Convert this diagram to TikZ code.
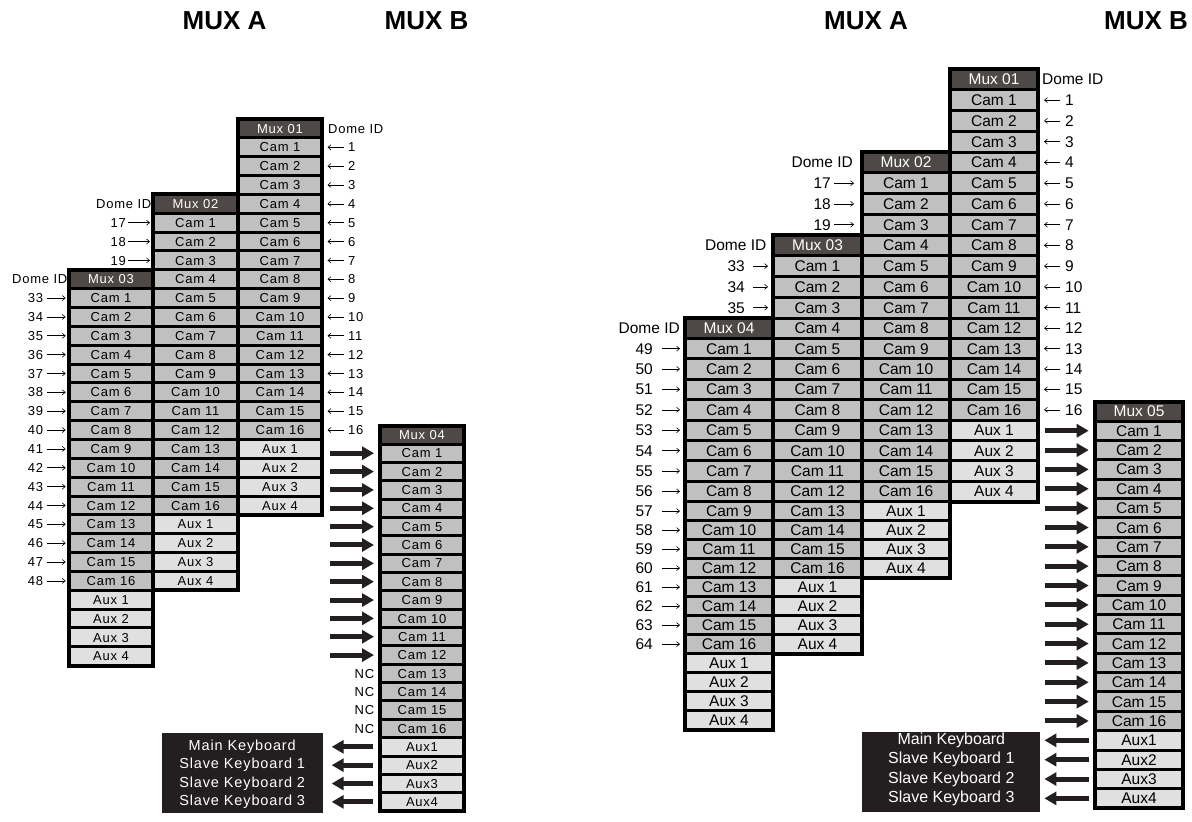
\documentclass[tikz,border=0pt]{standalone}
\usepackage{fontspec}
\setmainfont{Liberation Sans}
\newfontfamily\lfont[LetterSpace=6]{Liberation Sans}
\newfontfamily\rfont{Liberation Sans}
\usetikzlibrary{arrows.meta}
\definecolor{headcol}{RGB}{78,72,70}
\definecolor{camcol}{RGB}{192,192,192}
\definecolor{auxcol}{RGB}{224,224,224}
\definecolor{kbcol}{RGB}{35,31,32}

% #1 name, #2 x0, #3 x1, #4 start row, #5 row function, #6 header, #7 aux sep, #8 style
\newcommand\mkcol[8]{%
 \foreach \k in {0,...,20}{%
  \pgfmathsetmacro\ya{#5(#4+\k)}%
  \pgfmathsetmacro\yb{#5(#4+\k+1)}%
  \pgfmathsetmacro\yc{(\ya+\yb)/2}%
  \pgfmathsetmacro\hh{\yb-\ya}%
  \pgfmathtruncatemacro\ax{\k-16}%
  \ifnum\k=0
   \node[cell,headc,#8,minimum width={#3-#2},minimum height=\hh] (#1-\k) at ({(#2+#3)/2},\yc) {#6};
  \else\ifnum\k<17
   \node[cell,camc,#8,minimum width={#3-#2},minimum height=\hh] (#1-\k) at ({(#2+#3)/2},\yc) {Cam \k};
  \else
   \node[cell,auxc,#8,minimum width={#3-#2},minimum height=\hh] (#1-\k) at ({(#2+#3)/2},\yc) {Aux#7\ax};
  \fi\fi
 }%
 \draw[line width=4pt] (#2,{#5(#4)}) rectangle (#3,{#5(#4+21)});
}

\begin{document}
\begin{tikzpicture}[x=1pt,y=-1pt,
 declare function={yL(\r)=119+18.85*\r; yLf(\r)=425.7+18.35*\r;
   yR(\r)=69+20.75*min(\r,12)+20.4*max(0,min(\r,21)-12)+19*max(0,\r-21);
   yRf(\r)=401.7+19.35*\r;},
 cell/.style={draw=black,line width=3pt,inner sep=0pt},
 headc/.style={fill=headcol,text=white},
 camc/.style={fill=camcol,text=black},
 auxc/.style={fill=auxcol,text=black},
 lsz/.style={font=\lfont\fontsize{13}{13}\selectfont,text height=9.3pt,text depth=0pt},
 rsz/.style={font=\rfont\fontsize{15.5}{15.5}\selectfont,text height=11.1pt,text depth=0pt},
 lnum/.style={lsz,inner sep=1pt},
 rnum/.style={rsz,inner sep=1pt},
 thinarr/.style={line width=0.6pt,-{Straight Barb[length=3pt,width=5pt]}},
 bigarr/.style={draw=kbcol,line width=5pt,-{Triangle[length=12pt,width=13pt]}},
 kbbox/.style={fill=kbcol,inner sep=0pt,outer sep=0pt},
 title/.style={font=\bfseries\fontsize{26}{26}\selectfont,inner sep=0pt},
]
\useasboundingbox (0,0) rectangle (1192,822);

% titles
\node[title] (tLA) at (224.5,21) {MUX A};
\node[title] (tLB) at (426.5,21) {MUX B};
\node[title] (tRA) at (866,21) {MUX A};
\node[title] (tRB) at (1146,21) {MUX B};

% ---------- left diagram ----------
\mkcol{L1}{238}{322}{0}{yL}{Mux 01}{\space}{lsz}
\mkcol{L2}{153}{238}{4}{yL}{Mux 02}{\space}{lsz}
\mkcol{L3}{69}{153}{8}{yL}{Mux 03}{\space}{lsz}
\mkcol{L4}{380}{464}{0}{yLf}{Mux 04}{}{lsz}

\node[lnum,anchor=west] (dL1) at (327,{yL(0.5)}) {Dome ID};
\node[lnum,anchor=east] (dL2) at (152.5,{yL(4.5)}) {Dome ID};
\node[lnum,anchor=east] (dL3) at (68.5,{yL(8.5)}) {Dome ID};

\foreach \k in {1,...,16}{
 \node[lnum,anchor=west] (nL1-\k) at (347,{yL(\k+0.5)}) {\k};
 \draw[thinarr,shorten <=3.5pt,shorten >=4pt] (nL1-\k) -- (L1-\k);
}
\foreach \j/\n in {1/17,2/18,3/19}{
 \node[lnum,anchor=east] (nL2-\j) at (127,{yL(4+\j+0.5)}) {\n};
 \draw[thinarr,shorten <=1pt,shorten >=1.5pt] (nL2-\j) -- (L2-\j);
}
\foreach \j in {1,...,16}{
 \pgfmathtruncatemacro\n{32+\j}
 \node[lnum,anchor=east] (nL3-\j) at (44.3,{yL(8+\j+0.5)}) {\n};
 \draw[thinarr,shorten <=2.4pt,shorten >=1.8pt] (nL3-\j) -- (L3-\j);
}
\foreach \k in {13,...,16}{
 \node[lnum,anchor=east,xshift=-3pt] (nc-\k) at (L4-\k.west) {NC};
}
\foreach \k in {1,...,12}{
 \draw[bigarr,shorten <=6.5pt,shorten >=4.5pt] (L1-0.east |- L4-\k.west) -- (L4-\k);
}
\node[kbbox,minimum width=161pt,minimum height=79.7pt] (kbL) at (242.2,772.85) {};
\foreach \k/\t in {17/Main Keyboard,18/Slave Keyboard 1,19/Slave Keyboard 2,20/Slave Keyboard 3}{
 \node[text=white,font=\lfont\fontsize{14.5}{14.5}\selectfont,inner sep=0pt] (kL-\k) at (kbL.center |- L4-\k) {\t};
 \draw[bigarr,shorten <=5.5pt,shorten >=9pt] (L4-\k) -- (kbL.east |- L4-\k);
}

% ---------- right diagram ----------
\mkcol{R1}{950}{1038}{0}{yR}{Mux 01}{\space}{rsz}
\mkcol{R2}{862}{950}{4}{yR}{Mux 02}{\space}{rsz}
\mkcol{R3}{773}{862}{8}{yR}{Mux 03}{\space}{rsz}
\mkcol{R4}{685}{773}{12}{yR}{Mux 04}{\space}{rsz}
\mkcol{R5}{1095}{1183}{0}{yRf}{Mux 05}{}{rsz}

\node[rnum,anchor=west] (dR1) at (1041,{yR(0.5)}) {Dome ID};
\node[rnum,anchor=east] (dR2) at (854,{yR(4.5)}) {Dome ID};
\node[rnum,anchor=east] (dR3) at (767.5,{yR(8.5)}) {Dome ID};
\node[rnum,anchor=east] (dR4) at (681,{yR(12.5)}) {Dome ID};

\foreach \k in {1,...,16}{
 \node[rnum,anchor=west] (nR1-\k) at (1064,{yR(\k+0.5)}) {\k};
 \draw[thinarr,shorten <=4pt,shorten >=4.5pt] (nR1-\k) -- (R1-\k);
}
\foreach \j/\n in {1/17,2/18,3/19}{
 \node[rnum,anchor=east] (nR2-\j) at (832,{yR(4+\j+0.5)}) {\n};
 \draw[thinarr,shorten <=2pt,shorten >=6.5pt] (nR2-\j) -- (R2-\j);
}
\foreach \j/\n in {1/33,2/34,3/35}{
 \node[rnum,anchor=east] (nR3-\j) at (746,{yR(8+\j+0.5)}) {\n};
 \draw[thinarr,shorten <=7pt,shorten >=3.5pt] (nR3-\j) -- (R3-\j);
}
\foreach \j in {1,...,16}{
 \pgfmathtruncatemacro\n{48+\j}
 \node[rnum,anchor=east] (nR4-\j) at (654,{yR(12+\j+0.5)}) {\n};
 \draw[thinarr,shorten <=8pt,shorten >=3.5pt] (nR4-\j) -- (R4-\j);
}
\foreach \k in {1,...,16}{
 \draw[bigarr,shorten <=5pt,shorten >=4.8pt] (R1-0.east |- R5-\k.west) -- (R5-\k);
}
\node[kbbox,minimum width=178.1pt,minimum height=79.4pt] (kbR) at (951.35,772) {};
\foreach \k/\t in {17/Main Keyboard,18/Slave Keyboard 1,19/Slave Keyboard 2,20/Slave Keyboard 3}{
 \node[text=white,font=\rfont\fontsize{16}{16}\selectfont,inner sep=0pt] (kR-\k) at (kbR.center |- R5-\k) {\t};
 \draw[bigarr,shorten <=4.8pt,shorten >=4pt] (R5-\k) -- (kbR.east |- R5-\k);
}
\end{tikzpicture}
\end{document}
